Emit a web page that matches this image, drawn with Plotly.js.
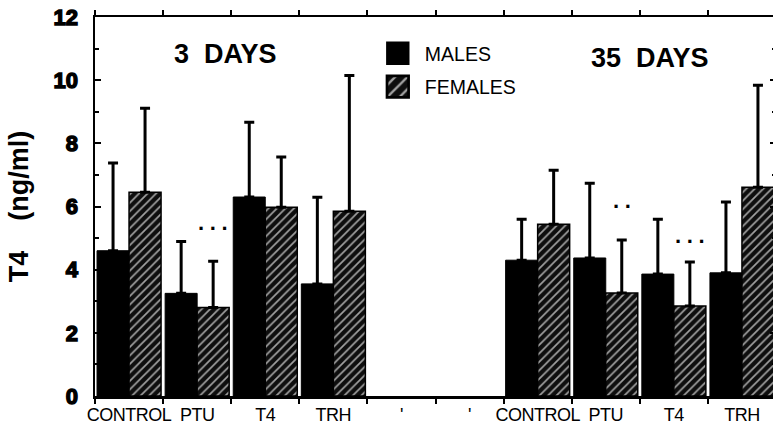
<!DOCTYPE html>
<html>
<head>
<meta charset="utf-8">
<script src="https://cdn.plot.ly/plotly-3.0.1.min.js"></script>
<style>
html,body{margin:0;padding:0;overflow:hidden;background:#fff;}
#chart .ytick text{font-weight:bold !important; stroke:#000; stroke-width:1.4px;}
#chart .xtick text{letter-spacing:-0.5px;}
</style>
</head>
<body>
<div id="chart"></div>
<script>
// ---- data ----
const treatments = ['CONTROL', 'PTU', 'T4', 'TRH'];
const gapLabels = ["'", "'"];
const slots3 = [0, 1, 2, 3];      // 3 days group
const slots35 = [6, 7, 8, 9];     // 35 days group

const males3 = [4.6, 3.25, 6.3, 3.55];
const males3Sd = [2.78, 1.64, 2.37, 2.74];
const females3 = [6.45, 2.8, 5.98, 5.85];
const females3Sd = [2.66, 1.47, 1.59, 4.3];

const males35 = [4.3, 4.37, 3.86, 3.9];
const males35Sd = [1.3, 2.37, 1.74, 2.24];
const females35 = [5.44, 3.26, 2.85, 6.61];
const females35Sd = [1.71, 1.68, 1.39, 3.23];

const yTickVals = [0, 2, 4, 6, 8, 10, 12];
const yTickText = ['0', '2', '4', '6', '8', '10', '12'];

const sigText = ['\u00b7\u2009\u00b7\u2009\u00b7', '\u00b7\u2009\u00b7', '\u00b7\u2009\u00b7\u2009\u00b7'];
const sigSlot = [1, 7, 8];
const sigY = [5.3, 6.0, 4.9];

const groupTitles = ['3\u00a0\u00a0DAYS', '35\u00a0\u00a0DAYS'];
const groupTitleX = [1.42, 7.65];
const groupTitleY = [10.84, 10.7];

// ---- build ----
const FONT = 'Liberation Sans, Arial, Helvetica, sans-serif';
const xs = slots3.concat(slots35);
const zeros = xs.map(() => 0);
const tickVals = [0, 1, 2, 3, 4, 5, 6, 7, 8, 9];
const tickText = treatments.concat(gapLabels, treatments);

const males = {
  type: 'bar', name: 'MALES', x: xs, y: males3.concat(males35),
  marker: {color: '#000', line: {color: '#000', width: 1}},
  error_y: {type: 'data', symmetric: false, array: males3Sd.concat(males35Sd),
            arrayminus: zeros, color: '#000', thickness: 3, width: 5},
  legendgroup: 'm'
};
const females = {
  type: 'bar', name: 'FEMALES', x: xs, y: females3.concat(females35),
  marker: {color: '#111', line: {color: '#000', width: 1.5},
           pattern: {shape: '/', fgcolor: '#a0a0a0', bgcolor: '#0e0e0e', size: 6, solidity: 0.28}},
  error_y: {type: 'data', symmetric: false, array: females3Sd.concat(females35Sd),
            arrayminus: zeros, color: '#000', thickness: 3, width: 5},
  legendgroup: 'f'
};

const annotations = [];
groupTitles.forEach((t, i) => annotations.push({
  x: groupTitleX[i], y: groupTitleY[i], xref: 'x', yref: 'y', text: '<b>' + t + '</b>', showarrow: false,
  font: {family: FONT, size: 27, color: '#000'}
}));
sigText.forEach((t, i) => annotations.push({
  x: sigSlot[i] + 0.24, y: sigY[i], xref: 'x', yref: 'y', text: '<b>' + t + '</b>', showarrow: false,
  font: {family: FONT, size: 22, color: '#000'}
}));

const layout = {
  width: 790, height: 428,
  margin: {l: 95, r: 14, t: 17, b: 32, pad: 0},
  paper_bgcolor: '#fff', plot_bgcolor: '#fff',
  barmode: 'group', bargap: 0.06, bargroupgap: 0,
  font: {family: FONT, color: '#000'},
  showlegend: true,
  legend: {x: 0.405, y: 0.955, xanchor: 'left', yanchor: 'top', itemwidth: 44,
           font: {family: FONT, size: 19.5, color: '#000'},
           bgcolor: 'rgba(0,0,0,0)', tracegroupgap: 5, traceorder: 'grouped'},
  xaxis: {
    range: [-0.5, 9.5], tickmode: 'array', tickvals: tickVals, ticktext: tickText,
    ticks: 'outside', ticklen: 0, showgrid: false, zeroline: false,
    showline: true, linewidth: 2.5, linecolor: '#000', mirror: 'ticks',
    minor: {tick0: -0.5, dtick: 1, ticks: 'outside', ticklen: 5, tickwidth: 2, tickcolor: '#000', showgrid: false},
    tickfont: {family: FONT, size: 18, color: '#000'}, ticklabelstandoff: 1
  },
  yaxis: {
    range: [0, 12], tickmode: 'array', tickvals: yTickVals, ticktext: yTickText,
    ticks: 'inside', ticklen: 6, tickwidth: 2, tickcolor: '#000',
    minor: {tickmode: 'linear', tick0: 0, dtick: 1, ticks: 'inside', ticklen: 4, tickwidth: 2, tickcolor: '#000', showgrid: false},
    showgrid: false, zeroline: false,
    showline: true, linewidth: 2.5, linecolor: '#000', mirror: 'ticks',
    tickfont: {family: FONT, size: 22, color: '#000', weight: 'bold'}, ticklabelstandoff: 10,
    title: {text: '<b>T4\u00a0\u00a0\u00a0\u00a0(ng/ml)</b>', font: {family: FONT, size: 27, color: '#000'}, standoff: 17}
  },
  annotations: annotations
};

Plotly.newPlot('chart', [males, females], layout, {displayModeBar: false, staticPlot: true}).then(gd => {
  // enlarge the legend keys to the size of the reference's squares
  gd.querySelectorAll('.legend .legendpoints path').forEach(p => {
    const t = p.getAttribute('transform') || '';
    p.setAttribute('transform', t + ' scale(1.8)');
  });
  gd.querySelectorAll('.ytick text').forEach(t => {
    t.style.fontWeight = 'bold';
    t.setAttribute('stroke', '#000');
    t.setAttribute('stroke-width', '1.4');
  });
});
</script>
</body>
</html>
